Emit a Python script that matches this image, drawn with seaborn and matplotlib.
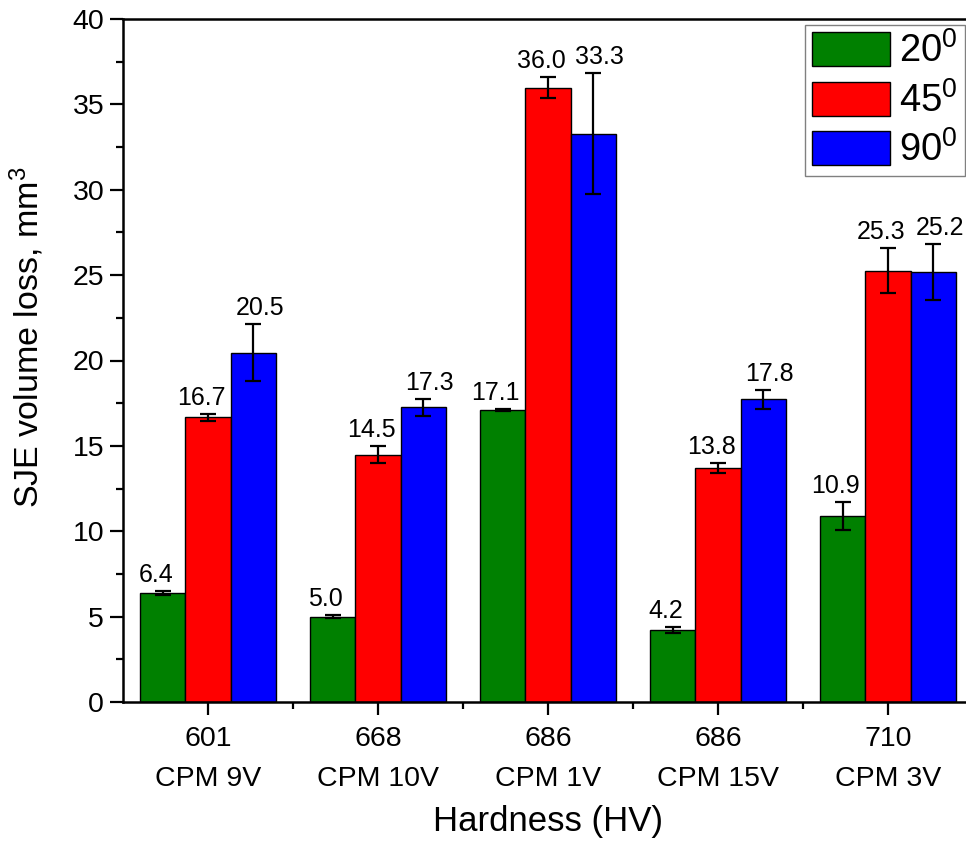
import numpy as np
import pandas as pd
import matplotlib
matplotlib.use("Agg")
import matplotlib.pyplot as plt
from matplotlib.ticker import MultipleLocator, FixedLocator
import seaborn as sns

# ---- data ----
hardness = ["601", "668", "686", "686", "710"]
steels = ["CPM 9V", "CPM 10V", "CPM 1V", "CPM 15V", "CPM 3V"]
angles = ["20", "45", "90"]
vals_20 = [6.36, 5.0, 17.1, 4.22, 10.88]
vals_45 = [16.68, 14.47, 35.97, 13.72, 25.25]
vals_90 = [20.46, 17.26, 33.29, 17.73, 25.19]
err_20 = [0.12, 0.08, 0.05, 0.17, 0.81]
err_45 = [0.2, 0.5, 0.62, 0.28, 1.32]
err_90 = [1.66, 0.49, 3.53, 0.55, 1.63]
value_labels_20 = ["6.4", "5.0", "17.1", "4.2", "10.9"]
value_labels_45 = ["16.7", "14.5", "36.0", "13.8", "25.3"]
value_labels_90 = ["20.5", "17.3", "33.3", "17.8", "25.2"]
colors = ["#008000", "#FF0000", "#0000FF"]
label_dx = [-5, -5, 4.5]  # horizontal label offsets (points), per series

sns.set_style("ticks")
plt.rcParams["font.family"] = ["Liberation Sans", "DejaVu Sans"]
plt.rcParams["mathtext.fontset"] = "custom"
plt.rcParams["mathtext.rm"] = "Liberation Sans"
plt.rcParams["mathtext.it"] = "Liberation Sans:italic"
plt.rcParams["mathtext.bf"] = "Liberation Sans:bold"
for k in ["text.color", "axes.labelcolor", "xtick.color", "ytick.color",
          "axes.edgecolor"]:
    plt.rcParams[k] = "black"

xcats = [f"{h}\n{s}" for h, s in zip(hardness, steels)]
values = [vals_20, vals_45, vals_90]
errs = [err_20, err_45, err_90]
vlabels = [value_labels_20, value_labels_45, value_labels_90]

rows = []
for a, v in zip(angles, values):
    for c, y in zip(xcats, v):
        rows.append({"group": c, "angle": a, "value": y})
df = pd.DataFrame(rows)

fig = plt.figure(figsize=(9.66, 8.43), dpi=100)
ax = fig.add_axes([123 / 966, 141 / 843, 850 / 966, 683 / 843])

sns.barplot(data=df, x="group", y="value", hue="angle", order=xcats,
            hue_order=angles, palette=colors, edgecolor="black",
            linewidth=1.0, errorbar=None, width=0.8, gap=0, saturation=1,
            ax=ax, legend=False)

bar_conts = list(ax.containers)
for i, cont in enumerate(bar_conts):
    xs = [p.get_x() + p.get_width() / 2 for p in cont.patches]
    hs = [p.get_height() for p in cont.patches]
    ax.errorbar(xs, hs, yerr=errs[i], fmt="none", ecolor="black",
                elinewidth=1.6, capsize=5.5, capthick=1.6, zorder=5)
    for x, h, e, t in zip(xs, hs, errs[i], vlabels[i]):
        ax.annotate(t, (x, h + e), xytext=(label_dx[i], 3),
                    textcoords="offset points", ha="center", va="bottom",
                    fontsize=18, color="black")

ax.set_xlim(-0.5, 4.5)
ax.set_ylim(0, 40)
ax.yaxis.set_major_locator(MultipleLocator(5))
ax.yaxis.set_minor_locator(MultipleLocator(2.5))
ax.xaxis.set_minor_locator(FixedLocator([0.5, 1.5, 2.5, 3.5]))

for s in ["left", "bottom", "top", "right"]:
    ax.spines[s].set_linewidth(1.8)
    ax.spines[s].set_color("black")

ax.tick_params(axis="both", which="major", direction="out", length=9.5,
               width=1.6, labelsize=20.5, colors="black")
ax.tick_params(axis="both", which="minor", direction="out", length=5,
               width=1.6, colors="black")
ax.tick_params(axis="x", which="major", pad=8)
ax.tick_params(axis="y", which="major", pad=4)
for lab in ax.get_xticklabels():
    lab.set_linespacing(1.7)

ax.set_xlabel("Hardness (HV)", fontsize=25, labelpad=9)
ax.set_ylabel("SJE volume loss, mm$^3$", fontsize=24.5)
ax.yaxis.set_label_coords(-0.09, 0.534)

handles = [cont.patches[0] for cont in bar_conts]
leg = ax.legend(handles, [f"{a}$^0$" for a in angles], loc="upper right",
                bbox_to_anchor=(965 / 966, 1 - 25 / 843),
                bbox_transform=fig.transFigure, borderaxespad=0,
                fontsize=27.5, handlelength=2.05, handleheight=1.0,
                borderpad=0.18, labelspacing=0.3, handletextpad=0.25,
                fancybox=False, frameon=True, framealpha=1)
leg.get_frame().set_edgecolor("#808080")
leg.get_frame().set_linewidth(1.0)

fig.savefig("out.png", dpi=100)
